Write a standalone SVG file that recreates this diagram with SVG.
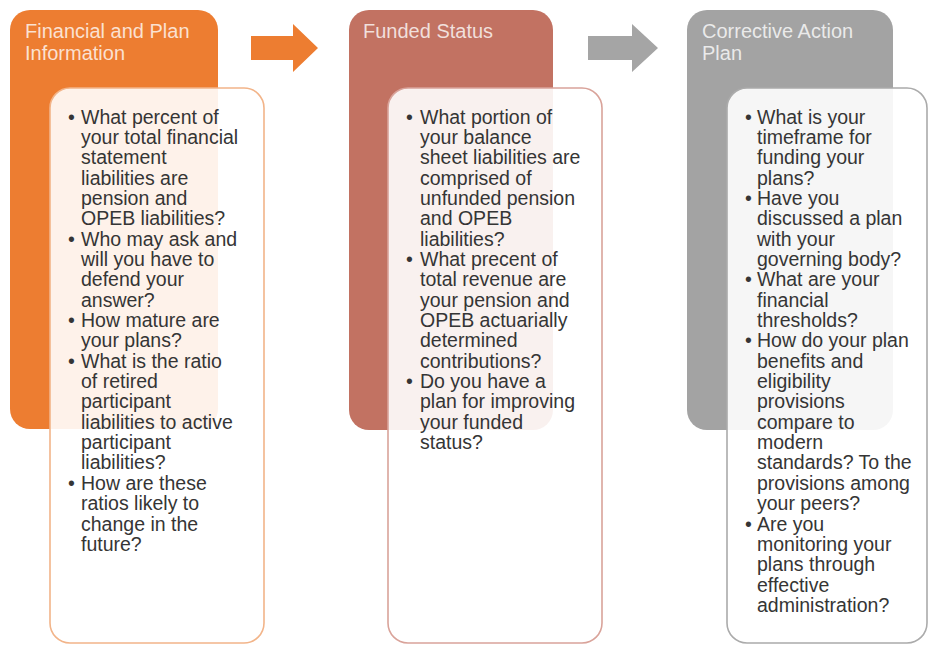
<svg xmlns="http://www.w3.org/2000/svg" width="930" height="645" viewBox="0 0 930 645">
  <style>
    .title { font-family: "Liberation Sans", Arial, sans-serif; font-size: 20px; fill: #ffffff; fill-opacity: 0.78; }
    .body { font-family: "Liberation Sans", Arial, sans-serif; font-size: 19.5px; fill: #353535; }
    .card { fill: #ffffff; fill-opacity: 0.9; stroke-width: 1.6; }
  </style>

  <rect width="930" height="645" fill="#ffffff"/>

  <!-- Stage 1: Financial and Plan Information -->
  <g id="stage-financial">
    <rect x="10" y="10" width="208" height="419" rx="20" fill="#ED7D31"/>
    <text class="title" x="25" y="38">Financial and Plan</text>
    <text class="title" x="25" y="60">Information</text>
    <rect class="card" x="50" y="88" width="214" height="555" rx="20" stroke="#F2B489"/>
    <g class="body">
      <text x="68" y="123.5">•</text>
      <text x="68" y="245.6">•</text>
      <text x="68" y="327">•</text>
      <text x="68" y="367.7">•</text>
      <text x="68" y="489.8">•</text>
      <text x="81" y="123.5">What percent of<tspan x="81" dy="20.35">your total financial</tspan><tspan x="81" dy="20.35">statement</tspan><tspan x="81" dy="20.35">liabilities are</tspan><tspan x="81" dy="20.35">pension and</tspan><tspan x="81" dy="20.35">OPEB liabilities?</tspan><tspan x="81" dy="20.35">Who may ask and</tspan><tspan x="81" dy="20.35">will you have to</tspan><tspan x="81" dy="20.35">defend your</tspan><tspan x="81" dy="20.35">answer?</tspan><tspan x="81" dy="20.35">How mature are</tspan><tspan x="81" dy="20.35">your plans?</tspan><tspan x="81" dy="20.35">What is the ratio</tspan><tspan x="81" dy="20.35">of retired</tspan><tspan x="81" dy="20.35">participant</tspan><tspan x="81" dy="20.35">liabilities to active</tspan><tspan x="81" dy="20.35">participant</tspan><tspan x="81" dy="20.35">liabilities?</tspan><tspan x="81" dy="20.35">How are these</tspan><tspan x="81" dy="20.35">ratios likely to</tspan><tspan x="81" dy="20.35">change in the</tspan><tspan x="81" dy="20.35">future?</tspan></text>
    </g>
  </g>

  <!-- Stage 2: Funded Status -->
  <g id="stage-funded">
    <rect x="349" y="10" width="204" height="420" rx="20" fill="#C27262"/>
    <text class="title" x="363" y="38">Funded Status</text>
    <rect class="card" x="388" y="88" width="214" height="555" rx="20" stroke="#D9A39A"/>
    <g class="body">
      <text x="406" y="123.5">•</text>
      <text x="406" y="265.95">•</text>
      <text x="406" y="388.05">•</text>
      <text x="420" y="123.5">What portion of<tspan x="420" dy="20.35">your balance</tspan><tspan x="420" dy="20.35">sheet liabilities are</tspan><tspan x="420" dy="20.35">comprised of</tspan><tspan x="420" dy="20.35">unfunded pension</tspan><tspan x="420" dy="20.35">and OPEB</tspan><tspan x="420" dy="20.35">liabilities?</tspan><tspan x="420" dy="20.35">What precent of</tspan><tspan x="420" dy="20.35">total revenue are</tspan><tspan x="420" dy="20.35">your pension and</tspan><tspan x="420" dy="20.35">OPEB actuarially</tspan><tspan x="420" dy="20.35">determined</tspan><tspan x="420" dy="20.35">contributions?</tspan><tspan x="420" dy="20.35">Do you have a</tspan><tspan x="420" dy="20.35">plan for improving</tspan><tspan x="420" dy="20.35">your funded</tspan><tspan x="420" dy="20.35">status?</tspan></text>
    </g>
  </g>

  <!-- Stage 3: Corrective Action Plan -->
  <g id="stage-corrective">
    <rect x="687" y="10" width="206" height="420" rx="20" fill="#A3A3A3"/>
    <text class="title" x="702" y="38">Corrective Action</text>
    <text class="title" x="702" y="60">Plan</text>
    <rect class="card" x="727" y="88" width="200" height="555" rx="20" stroke="#ABABAB"/>
    <g class="body">
      <text x="745" y="123.5">•</text>
      <text x="745" y="204.9">•</text>
      <text x="745" y="286.3">•</text>
      <text x="745" y="347.35">•</text>
      <text x="745" y="530.5">•</text>
      <text x="757" y="123.5">What is your<tspan x="757" dy="20.35">timeframe for</tspan><tspan x="757" dy="20.35">funding your</tspan><tspan x="757" dy="20.35">plans?</tspan><tspan x="757" dy="20.35">Have you</tspan><tspan x="757" dy="20.35">discussed a plan</tspan><tspan x="757" dy="20.35">with your</tspan><tspan x="757" dy="20.35">governing body?</tspan><tspan x="757" dy="20.35">What are your</tspan><tspan x="757" dy="20.35">financial</tspan><tspan x="757" dy="20.35">thresholds?</tspan><tspan x="757" dy="20.35">How do your plan</tspan><tspan x="757" dy="20.35">benefits and</tspan><tspan x="757" dy="20.35">eligibility</tspan><tspan x="757" dy="20.35">provisions</tspan><tspan x="757" dy="20.35">compare to</tspan><tspan x="757" dy="20.35">modern</tspan><tspan x="757" dy="20.35">standards? To the</tspan><tspan x="757" dy="20.35">provisions among</tspan><tspan x="757" dy="20.35">your peers?</tspan><tspan x="757" dy="20.35">Are you</tspan><tspan x="757" dy="20.35">monitoring your</tspan><tspan x="757" dy="20.35">plans through</tspan><tspan x="757" dy="20.35">effective</tspan><tspan x="757" dy="20.35">administration?</tspan></text>
    </g>
  </g>

  <!-- Block arrows between stages -->
  <g id="connectors">
    <path d="M251,36 H293 V24 L318,48 L293,72 V60 H251 Z" fill="#ED7D31"/>
    <path d="M588,36 H632 V24 L658,48 L632,72 V60 H588 Z" fill="#A5A5A5"/>
  </g>
</svg>
